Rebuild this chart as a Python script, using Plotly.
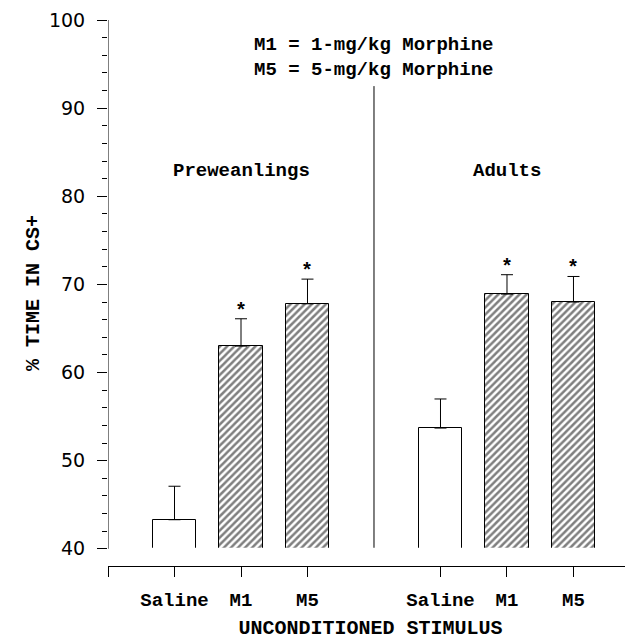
import plotly.graph_objects as go

# ---- data ----
groups = ["Preweanlings", "Preweanlings", "Preweanlings", "Adults", "Adults", "Adults"]
treatments = ["Saline", "M1", "M5", "Saline", "M1", "M5"]
positions = [0, 1, 2, 4, 5, 6]
means = [43.3, 63.0, 67.8, 53.7, 68.9, 68.0]
sems = [3.8, 3.1, 2.8, 3.3, 2.2, 2.9]
significant = [False, True, True, False, True, True]
y_ticks = [40, 50, 60, 70, 80, 90, 100]
baseline = 40

mono = "Liberation Mono"
sans = "DejaVu Sans"

patterns = ["" if t == "Saline" else "/" for t in treatments]

fig = go.Figure()
fig.add_trace(go.Bar(
    x=positions,
    y=[m - baseline for m in means],
    base=baseline,
    width=0.66,
    marker=dict(
        color="white",
        line=dict(color="black", width=1),
        pattern=dict(shape=patterns, fgcolor="black", bgcolor="white",
                     size=5, solidity=0.5),
    ),
    error_y=dict(type="data", array=sems, arrayminus=[0] * len(sems),
                 symmetric=False, color="black", thickness=1, width=6),
    showlegend=False,
))

annotations = []
for p, m, s, sig in zip(positions, means, sems, significant):
    if sig:
        annotations.append(dict(x=p, y=m + s, text="<b>*</b>", showarrow=False,
                                yanchor="bottom", yshift=-6,
                                font=dict(family=mono, size=20, color="black")))

annotations += [
    dict(x=1, y=82.9, text="<b>Preweanlings</b>", showarrow=False,
         font=dict(family=mono, size=19, color="black")),
    dict(x=5, y=82.9, text="<b>Adults</b>", showarrow=False,
         font=dict(family=mono, size=19, color="black")),
    dict(x=3, y=95.8, text="<b>M1 = 1-mg/kg Morphine<br>M5 = 5-mg/kg Morphine</b>",
         showarrow=False, align="left",
         font=dict(family=mono, size=19, color="black")),
]

shapes = [
    # y axis line from 40 to 100
    dict(type="line", xref="x", yref="y", x0=-1, x1=-1, y0=baseline, y1=100,
         line=dict(color="black", width=1)),
    # divider between groups
    dict(type="line", xref="x", yref="y", x0=3, x1=3, y0=baseline, y1=92.5,
         line=dict(color="black", width=1)),
    # hide bar bottoms
    dict(type="line", xref="x", yref="y", x0=-0.5, x1=6.5, y0=baseline, y1=baseline,
         line=dict(color="white", width=2), layer="above"),
]

fig.update_layout(
    width=633, height=641,
    margin=dict(l=100, r=8, t=12, b=83, autoexpand=False),
    plot_bgcolor="white", paper_bgcolor="white",
    bargap=0,
    annotations=annotations,
    shapes=shapes,
    xaxis=dict(
        range=[-1, 6.895],
        automargin=False,
        tickvals=[-1] + positions,
        ticktext=[""] + [f"<b>{t}</b>" for t in treatments],
        ticks="outside", ticklen=10, tickcolor="black", tickwidth=1,
        showline=True, linecolor="black", linewidth=1,
        showgrid=False, zeroline=False,
        ticklabelstandoff=6,
        tickfont=dict(family=mono, size=19, color="black"),
        title=dict(text="<b>UNCONDITIONED STIMULUS</b>",
                   font=dict(family=mono, size=20, color="black"), standoff=9),
    ),
    yaxis=dict(
        range=[38.05, 100],
        automargin=False,
        tickvals=y_ticks,
        ticks="outside", ticklen=10, tickcolor="black", tickwidth=1,
        minor=dict(dtick=2, tick0=40, ticks="outside", ticklen=5,
                   tickcolor="black", tickwidth=1),
        showline=False, showgrid=False, zeroline=False,
        tickfont=dict(family=sans, size=19, color="black"),
        ticklabelstandoff=8,
        title=dict(text="<b>% TIME IN CS+</b>",
                   font=dict(family=mono, size=20, color="black"), standoff=3),
    ),
)

fig.write_html("out.html")
